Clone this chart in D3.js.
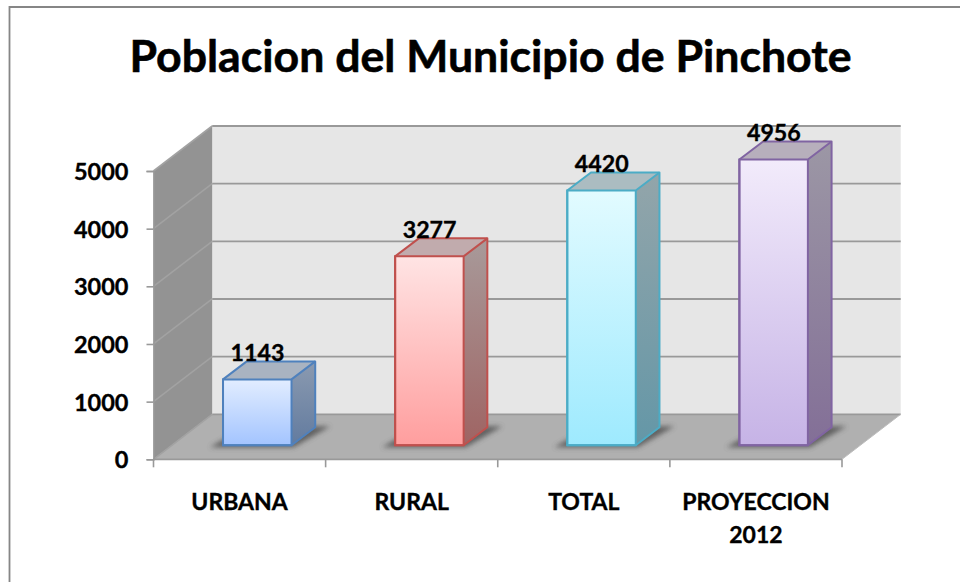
<!DOCTYPE html>
<html><head><meta charset="utf-8">
<script src="https://cdn.jsdelivr.net/npm/d3@7"></script>
<style>html,body{margin:0;background:#fff}svg{display:block}text{font-family:Lato,sans-serif;font-weight:700;fill:#000;stroke:#000;stroke-width:.35px}</style>
</head><body><svg id="c" width="960" height="582"></svg>
<script>
const titleText = "Poblacion del Municipio de Pinchote";
const categories = ["URBANA","RURAL","TOTAL","PROYECCION 2012"];
const categoryLines = [["URBANA"],["RURAL"],["TOTAL"],["PROYECCION","2012"]];
const values = [1143,3277,4420,4956];
const yTicks = [0,1000,2000,3000,4000,5000];
const strokes = ["#4f81bd","#c0504d","#4bacc6","#8064a2"];
const frontTop = ["#e2edff","#ffe4e4","#e2fbff","#f2ebfb"];
const frontBot = ["#a3c4ff","#ff9e9e","#9eeafe","#c6b3e6"];
const sideTop = ["#8b9ab0","#a89a9a","#93a5aa","#9c97a5"];
const sideBot = ["#627b9f","#9f6463","#6497a7","#836f97"];
const topFace = ["#a9b3c1","#c1abad","#abbcc1","#b7afbc"];

const svg = d3.select("#c");
const W = {dx:58.7, dy:-45};       // depth of the plot box
const B = {off:14, dx:23.7, dy:-18, w:68.5}; // bar floor offset & depth
const x = d3.scaleBand().domain(categories).range([153.5,842]).paddingInner(0).paddingOuter(0);
const y = d3.scaleLinear().domain([0,5000]).range([459.3,171]);
const line = d3.line();
const gridCol = "#999999";

svg.append("path").attr("d","M9.5,582V7H960").attr("fill","none").attr("stroke","#868686").attr("stroke-width",1.8);

const defs = svg.append("defs");
const grad = (id,a,b,x2,y2)=>{const g=defs.append("linearGradient").attr("id",id).attr("x1",0).attr("y1",0).attr("x2",x2).attr("y2",y2);
  g.append("stop").attr("offset",0).attr("stop-color",a);g.append("stop").attr("offset",1).attr("stop-color",b);};
categories.forEach((c,i)=>{grad("f"+i,frontTop[i],frontBot[i],0,1);grad("s"+i,sideTop[i],sideBot[i],0,1);});
defs.append("filter").attr("id","blur").attr("x","-20%").attr("y","-50%").attr("width","140%").attr("height","200%")
  .append("feGaussianBlur").attr("stdDeviation",2.4);

const x0=x.range()[0], x1=x.range()[1], y0=y(0), yT=y(5000);
// walls
svg.append("path").attr("d",line([[x0+W.dx,y0+W.dy],[x1+W.dx,y0+W.dy],[x1+W.dx,yT+W.dy],[x0+W.dx,yT+W.dy]])+"Z").attr("fill","#e6e6e6");
svg.append("path").attr("d",line([[x0,y0],[x0+W.dx,y0+W.dy],[x0+W.dx,yT+W.dy],[x0,yT]])+"Z").attr("fill","#939393");
svg.append("path").attr("d",line([[x0,y0],[x1,y0],[x1+W.dx,y0+W.dy],[x0+W.dx,y0+W.dy]])+"Z").attr("fill","#b0b0b0");
// gridlines
svg.append("g").selectAll("path").data(yTicks).join("path")
  .attr("d",v=>line([[x0+W.dx,y(v)+W.dy],[x1+W.dx,y(v)+W.dy]]))
  .attr("fill","none").attr("stroke",gridCol).attr("stroke-width",1.8);
svg.append("g").selectAll("path").data(yTicks).join("path")
  .attr("d",v=>line([[x0,y(v)],[x0+W.dx,y(v)+W.dy]]))
  .attr("fill","none").attr("stroke","#a2a2a2").attr("stroke-width",1.6);
svg.append("path").attr("d",line([[x1,y0],[x1+W.dx,y0+W.dy]])).attr("fill","none").attr("stroke","#bdbdbd").attr("stroke-width",1);
// axes
const yAxis = svg.append("g").attr("transform",`translate(${x0},0)`).call(d3.axisLeft(y).tickValues(yTicks).tickSize(7).tickPadding(18).tickFormat(d3.format("d")));
yAxis.selectAll("text").attr("font-size",23.5).style("font-family","Lato,sans-serif").attr("dy","0.36em");
yAxis.selectAll("line,path").attr("stroke",gridCol).attr("stroke-width",1.6);
const xAxis = svg.append("g").attr("transform",`translate(0,${y0})`);
xAxis.append("path").attr("d",`M${x0},0H${x1}`).attr("stroke",gridCol).attr("stroke-width",1.8);
xAxis.selectAll("line").data(d3.range(categories.length+1)).join("line")
  .attr("x1",i=>x0+i*x.step()).attr("x2",i=>x0+i*x.step()).attr("y1",0).attr("y2",8)
  .attr("stroke",gridCol).attr("stroke-width",1.6);
categoryLines.forEach((ls,i)=>{
  const t = svg.append("text").attr("text-anchor","middle").attr("font-size",23).attr("x",x(categories[i])+x.bandwidth()/2).attr("y",510);
  ls.forEach((l,j)=>t.append("tspan").attr("x",x(categories[i])+x.bandwidth()/2).attr("dy",j?33:0).text(l));
});
// bars
const g = svg.append("g").selectAll("g").data(values).join("g");
g.each(function(v,i){
  const s=d3.select(this), cx=x(categories[i])+x.bandwidth()/2+17.7;
  const l=cx-B.w/2, r=cx+B.w/2, b=y0-B.off, t=y(v)-B.off;
  s.append("path").attr("d",line([[l-13,b+2],[r+2,b+2],[r+B.dx+15,b-19],[l+B.dx,b-19]])+"Z")
    .attr("fill","#4d4d4d").attr("opacity",.8).attr("filter","url(#blur)");
  s.append("path").attr("d",line([[r,b],[r+B.dx,b+B.dy],[r+B.dx,t+B.dy],[r,t]])+"Z").attr("fill",`url(#s${i})`);
  s.append("path").attr("d",line([[l,t],[l+B.dx,t+B.dy],[r+B.dx,t+B.dy],[r,t]])+"Z").attr("fill",topFace[i]);
  s.append("rect").attr("x",l).attr("y",t).attr("width",B.w).attr("height",b-t).attr("fill",`url(#f${i})`);
  s.append("path").attr("d",line([[l,b],[l,t],[l+B.dx,t+B.dy],[r+B.dx,t+B.dy],[r+B.dx,b+B.dy],[r,b]])+"Z")
    .attr("fill","none").attr("stroke",strokes[i]).attr("stroke-width",2).attr("stroke-linejoin","round");
  s.append("path").attr("d",line([[l,b],[r,b],[r,t],[l,t]])+"Z M"+r+","+t+"L"+(r+B.dx)+","+(t+B.dy))
    .attr("fill","none").attr("stroke",strokes[i]).attr("stroke-width",2);
  s.append("text").attr("text-anchor","middle").attr("font-size",23.2).attr("x",cx+0.2).attr("y",t-18.5).text(v);
});
svg.append("text").attr("text-anchor","middle").attr("x",490.5).attr("y",72).attr("font-size",44.6).style("stroke-width","0.6px").text(titleText);
</script></body></html>
